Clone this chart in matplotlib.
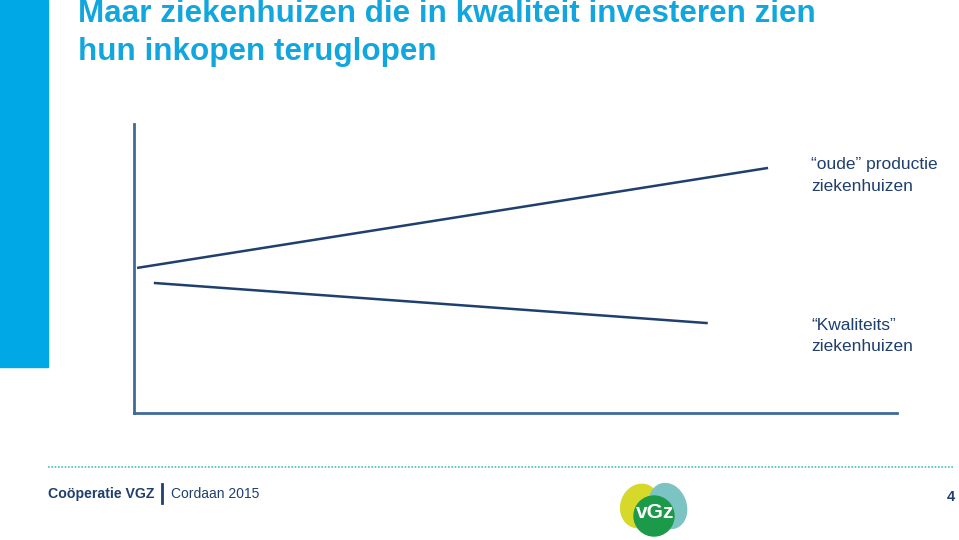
import matplotlib.pyplot as plt
from matplotlib.patches import Rectangle, Ellipse

plt.rcParams['font.family'] = ['Liberation Sans', 'DejaVu Sans']

# schematic lines (x 0-100, y 0-100 in axes data units)
oude_x = [0.4, 83.1]
oude_y = [50.2, 84.8]
kwal_x = [2.6, 75.2]
kwal_y = [45.0, 31.1]

title_lines = ["Maar ziekenhuizen die in kwaliteit investeren zien", "hun inkopen teruglopen"]
label_oude = ["\u201coude\u201d productie", "ziekenhuizen"]
label_kwal = ["\u201cKwaliteits\u201d", "ziekenhuizen"]
footer_bold = "Coöperatie VGZ"
footer_rest = "Cordaan 2015"
page_no = "4"

cyan = '#12a6df'
navy = '#1f3f6e'
axis_col = '#3d6a98'

W, H = 959, 540
fig = plt.figure(figsize=(W / 100, H / 100), dpi=100)


def fx(px):
    return px / W


def fy(py):
    return 1 - py / H


# left blue bar
fig.patches.append(Rectangle((0, fy(367)), fx(48), 367 / H, transform=fig.transFigure,
                             color='#00a9e6', zorder=0))

for line, base in zip(title_lines, [22, 60]):
    fig.text(fx(78), fy(base), line, color=cyan, fontsize=22.6, fontweight='bold',
             va='baseline', ha='left')

ax = fig.add_axes([fx(134), fy(413), fx(897 - 134), (413 - 124) / H])
ax.set_xlim(0, 100)
ax.set_ylim(0, 100)
ax.plot(oude_x, oude_y, color=navy, lw=1.8, solid_capstyle='butt')
ax.plot(kwal_x, kwal_y, color=navy, lw=1.8, solid_capstyle='butt')
for s in ['top', 'right']:
    ax.spines[s].set_visible(False)
for s in ['left', 'bottom']:
    ax.spines[s].set_color(axis_col)
    ax.spines[s].set_linewidth(2)
ax.set_xticks([])
ax.set_yticks([])
ax.patch.set_alpha(0)

for lines, bases in [(label_oude, [169, 191]), (label_kwal, [330, 351])]:
    for line, base in zip(lines, bases):
        fig.text(fx(811), fy(base), line, color=navy, fontsize=12.5, va='baseline', ha='left')

# dotted footer rule
fig.add_artist(plt.Line2D([fx(48), fx(953)], [fy(467), fy(467)], transform=fig.transFigure,
                          color='#4bbfc4', lw=1.2, ls=(0, (1, 1))))

fig.text(fx(48), fy(494), footer_bold, color=navy, fontsize=10.2, fontweight='bold',
         va='center', ha='left')
fig.add_artist(plt.Line2D([fx(162), fx(162)], [fy(484), fy(503)], transform=fig.transFigure,
                          color=navy, lw=2))
fig.text(fx(171), fy(494), footer_rest, color=navy, fontsize=10, va='center', ha='left')
fig.text(fx(955), fy(497), page_no, color=navy, fontsize=10.5, fontweight='bold',
         va='center', ha='right')

# rough VGZ logo
logo = fig.add_axes([fx(618), fy(538), fx(74), 56 / H])
logo.set_xlim(0, 74)
logo.set_ylim(0, 56)
logo.axis('off')
logo.add_patch(Ellipse((22, 32), 38, 44, angle=-20, color='#d6d92a'))
logo.add_patch(Ellipse((50, 32), 36, 46, angle=20, color='#7cc4c4'))
logo.add_patch(Ellipse((36, 22), 40, 40, color='#1b9a4a'))
logo.text(37, 26, "vGz", color='white', fontsize=15, fontweight='bold', ha='center', va='center')

fig.savefig('out.png', dpi=100)
